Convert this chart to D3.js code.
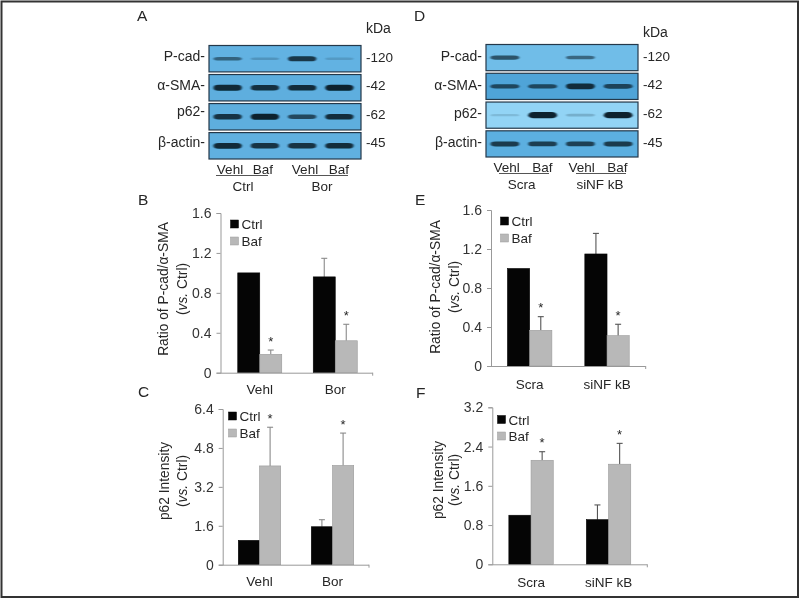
<!DOCTYPE html>
<html>
<head>
<meta charset="utf-8">
<script src="https://cdn.jsdelivr.net/npm/d3@7"></script>
<style>
html, body { margin: 0; padding: 0; background: #fff; }
svg { display: block; filter: blur(0.35px); }
text { font-family: "Liberation Sans", Arial, sans-serif; fill: #262626; }
</style>
</head>
<body>
<svg width="800" height="599"></svg>
<script>
// western blot values, one density per lane (0-1)
var blotRows = ['P-cad-', 'α-SMA-', 'p62-', 'β-actin-'];
var blotWeights = ['-120', '-42', '-62', '-45'];
var lanes = ['Vehl1', 'Baf1', 'Vehl2', 'Baf2'];
var laneLabels = ['Vehl', 'Baf', 'Vehl', 'Baf'];
var densityA = [
    [0.55, 0.2, 0.85, 0.16],
    [0.95, 0.9, 0.93, 1],
    [0.88, 1, 0.72, 0.92],
    [0.95, 0.88, 0.88, 0.92]
];
var densityD = [
    [0.68, 0, 0.55, 0],
    [0.72, 0.72, 0.92, 0.75],
    [0.14, 1, 0.2, 1],
    [0.82, 0.8, 0.78, 0.82]
];

// bar chart values
var series = ['Ctrl', 'Baf'];
var groupsLeft = ['Vehl', 'Bor'];
var groupsRight = ['Scra', 'siNF kB'];

var ctrlB = [1.0, 0.96];
var ctrlErrB = [null, 1.146];
var bafB = [0.184, 0.32];
var bafErrB = [0.227, 0.485];
var ticksB = [0, 0.4, 0.8, 1.2, 1.6];

var ctrlC = [1.0, 1.56];
var ctrlErrC = [null, 1.85];
var bafC = [4.06, 4.08];
var bafErrC = [5.65, 5.41];
var ticksC = [0, 1.6, 3.2, 4.8, 6.4];

var ctrlE = [1.0, 1.149];
var ctrlErrE = [null, 1.36];
var bafE = [0.366, 0.311];
var bafErrE = [0.506, 0.428];
var ticksE = [0, 0.4, 0.8, 1.2, 1.6];

var ctrlF = [1.0, 0.91];
var ctrlErrF = [null, 1.21];
var bafF = [2.12, 2.04];
var bafErrF = [2.295, 2.465];
var ticksF = [0, 0.8, 1.6, 2.4, 3.2];

var svg = d3.select('svg');

svg.append('rect')
    .attr('x', 1.5).attr('y', 1.5)
    .attr('width', 796.5).attr('height', 595.5)
    .attr('fill', 'none')
    .attr('stroke', '#333')
    .attr('stroke-width', 2);

var defs = svg.append('defs');
defs.append('filter')
    .attr('id', 'soft')
    .attr('x', '-20%').attr('y', '-100%')
    .attr('width', '140%').attr('height', '300%')
    .append('feGaussianBlur')
    .attr('stdDeviation', '0.8 0.6');

var thickness = d3.scalePow().exponent(2).domain([0, 1]).range([2.4, 6.2]);

function letter(s, x, y) {
    svg.append('text').attr('x', x).attr('y', y)
        .attr('font-size', 15.5).text(s);
}

function drawBlot(cfg) {
    var rowY = d3.scaleBand().domain(blotRows).range(cfg.yRange).paddingInner(0.09);
    var laneX = d3.scaleBand().domain(lanes).range(cfg.laneRange).paddingInner(0.24).paddingOuter(0.12);

    var g = svg.append('g').attr('class', 'blot');

    blotRows.forEach(function(row, i) {
        g.append('rect')
            .attr('x', cfg.x0).attr('y', rowY(row))
            .attr('width', cfg.x1 - cfg.x0).attr('height', rowY.bandwidth())
            .attr('fill', cfg.rowColors[i])
            .attr('stroke', '#24384a')
            .attr('stroke-width', 1.2);

        g.selectAll('.band' + i)
            .data(cfg.density[i])
            .enter()
            .append('rect')
            .attr('class', 'band' + i)
            .attr('x', function(d, j) { return laneX(lanes[j]); })
            .attr('y', function(d) { return rowY(row) + rowY.bandwidth() / 2 - thickness(d) / 2; })
            .attr('width', laneX.bandwidth())
            .attr('height', function(d) { return thickness(d); })
            .attr('rx', 5)
            .attr('ry', function(d) { return thickness(d) / 2; })
            .attr('fill', '#08202f')
            .attr('opacity', function(d) { return d; })
            .attr('filter', 'url(#soft)');

        svg.append('text')
            .attr('x', cfg.x0 - 4).attr('y', cfg.rowBase[i])
            .attr('text-anchor', 'end').attr('font-size', 14)
            .text(row);
        svg.append('text')
            .attr('x', cfg.x1 + 5).attr('y', cfg.weightBase[i])
            .attr('font-size', 13.5)
            .text(blotWeights[i]);
    });

    svg.append('text')
        .attr('x', cfg.x1 + 5).attr('y', cfg.kdaY)
        .attr('font-size', 14).text('kDa');

    laneLabels.forEach(function(s, i) {
        svg.append('text')
            .attr('x', cfg.laneLabelX[i]).attr('y', cfg.laneLabelY)
            .attr('text-anchor', 'middle').attr('font-size', 13.5)
            .text(s);
    });
    cfg.groups.forEach(function(s, i) {
        svg.append('line')
            .attr('x1', cfg.under[i][0]).attr('x2', cfg.under[i][1])
            .attr('y1', cfg.underY).attr('y2', cfg.underY)
            .attr('stroke', '#555').attr('stroke-width', 1);
        svg.append('text')
            .attr('x', cfg.groupX[i]).attr('y', cfg.groupY)
            .attr('text-anchor', 'middle').attr('font-size', 13.5)
            .text(s);
    });
}

function drawBars(cfg) {
    var y = d3.scaleLinear()
        .domain([0, d3.max(cfg.ticks)])
        .range([cfg.bottom, cfg.top]);
    var x = d3.scaleBand().domain(cfg.groups).range(cfg.xRange);
    var inner = d3.scaleBand().domain(series)
        .range([x.bandwidth() / 2 - cfg.barW, x.bandwidth() / 2 + cfg.barW]);

    var rows = cfg.groups.map(function(g, i) {
        return [
            { group: g, key: 'Ctrl', value: cfg.ctrl[i], err: cfg.ctrlErr[i] },
            { group: g, key: 'Baf', value: cfg.baf[i], err: cfg.bafErr[i] }
        ];
    });
    var data = d3.merge(rows);

    var chart = svg.append('g').attr('class', 'bars');

    // error bars sit behind the bars
    var withErr = data.filter(function(d) { return d.err !== null; });
    var cx = function(d) { return x(d.group) + inner(d.key) + inner.bandwidth() / 2; };

    chart.selectAll('.err')
        .data(withErr)
        .enter()
        .append('line')
        .attr('class', 'err')
        .attr('x1', cx).attr('x2', cx)
        .attr('y1', function(d) { return y(d.value); })
        .attr('y2', function(d) { return y(d.err); })
        .attr('stroke', cfg.errColor).attr('stroke-width', 1.1);
    chart.selectAll('.cap')
        .data(withErr)
        .enter()
        .append('line')
        .attr('class', 'cap')
        .attr('x1', function(d) { return cx(d) - 3; })
        .attr('x2', function(d) { return cx(d) + 3; })
        .attr('y1', function(d) { return y(d.err); })
        .attr('y2', function(d) { return y(d.err); })
        .attr('stroke', cfg.errColor).attr('stroke-width', 1.1);

    chart.selectAll('.bar')
        .data(data)
        .enter()
        .append('rect')
        .attr('class', 'bar')
        .attr('x', function(d) { return x(d.group) + inner(d.key); })
        .attr('y', function(d) { return y(d.value); })
        .attr('width', inner.bandwidth())
        .attr('height', function(d) { return y(0) - y(d.value); })
        .attr('fill', function(d) { return d.key === 'Ctrl' ? '#050505' : '#b8b8b8'; })
        .attr('stroke', function(d) { return d.key === 'Ctrl' ? '#050505' : '#9a9a9a'; })
        .attr('stroke-width', 0.6);

    chart.selectAll('.star')
        .data(data.filter(function(d) { return d.key === 'Baf'; }))
        .enter()
        .append('text')
        .attr('class', 'star')
        .attr('x', cx)
        .attr('y', function(d) { return y(d.err) - 4.5; })
        .attr('text-anchor', 'middle')
        .attr('font-size', 13)
        .text('*');

    // axes
    var yAxis = d3.axisLeft(y)
        .tickValues(cfg.ticks)
        .tickSize(4)
        .tickPadding(5)
        .tickFormat(function(d) { return d === 0 ? '0' : d3.format('.1f')(d); });
    var axisG = svg.append('g')
        .attr('transform', 'translate(' + cfg.axisX + ',0)')
        .call(yAxis);
    axisG.selectAll('text').attr('font-size', 14).style('fill', '#333');
    axisG.selectAll('line, path').attr('stroke', '#999');
    axisG.select('.domain').attr('stroke', '#999');

    var baseline = svg.append('g');
    baseline.append('line')
        .attr('x1', cfg.axisX).attr('x2', cfg.xEnd)
        .attr('y1', cfg.bottom + 0.5).attr('y2', cfg.bottom + 0.5)
        .attr('stroke', '#999');
    baseline.append('line')
        .attr('x1', cfg.xEnd).attr('x2', cfg.xEnd)
        .attr('y1', cfg.bottom).attr('y2', cfg.bottom + 3)
        .attr('stroke', '#999');

    cfg.groups.forEach(function(g) {
        svg.append('text')
            .attr('x', x(g) + x.bandwidth() / 2)
            .attr('y', cfg.labelY)
            .attr('text-anchor', 'middle')
            .attr('font-size', 13.5)
            .text(g);
    });

    // legend
    series.forEach(function(s, i) {
        svg.append('rect')
            .attr('x', cfg.legendX).attr('y', cfg.legendY[i])
            .attr('width', 8).attr('height', 8)
            .attr('fill', i === 0 ? '#050505' : '#b8b8b8')
            .attr('stroke', i === 0 ? '#050505' : '#9a9a9a')
            .attr('stroke-width', 0.5);
        svg.append('text')
            .attr('x', cfg.legendX + 11).attr('y', cfg.legendY[i] + 9)
            .attr('font-size', 13.5)
            .text(s);
    });

    // y title, two rotated lines
    svg.append('text')
        .attr('transform', 'translate(' + cfg.titleX[0] + ',' + cfg.titleY + ') rotate(-90)')
        .attr('text-anchor', 'middle')
        .attr('font-size', 13.8)
        .text(cfg.title);
    var t2 = svg.append('text')
        .attr('transform', 'translate(' + cfg.titleX[1] + ',' + cfg.titleY + ') rotate(-90)')
        .attr('text-anchor', 'middle')
        .attr('font-size', 13.8);
    t2.append('tspan').text('(');
    t2.append('tspan').attr('font-style', 'italic').text('vs.');
    t2.append('tspan').text(' Ctrl)');
}

letter('A', 137, 21);
letter('D', 414, 21);
letter('B', 138, 205);
letter('C', 138, 397);
letter('E', 415, 205);
letter('F', 416, 398);

drawBlot({
    x0: 209, x1: 361, yRange: [45.5, 159], laneRange: [209, 358],
    density: densityA,
    rowColors: ['#62b2e2', '#5eaede', '#5eaede', '#60b0e0'],
    rowBase: [60.5, 90, 115.5, 146.5], weightBase: [61.5, 90, 119, 147],
    kdaY: 33,
    laneLabelX: [230, 263, 305, 339], laneLabelY: 174,
    groups: ['Ctrl', 'Bor'], under: [[216, 268], [298, 348]], underY: 175.5,
    groupX: [243, 322], groupY: 191
});
drawBlot({
    x0: 486, x1: 638, yRange: [44.5, 157], laneRange: [486, 637],
    density: densityD,
    rowColors: ['#70bde8', '#4fa4d8', '#92d4f5', '#5cafe0'],
    rowBase: [61, 90, 118, 146.5], weightBase: [61, 89, 117.5, 146.5],
    kdaY: 36.5,
    laneLabelX: [506.7, 542.3, 581.7, 617.3], laneLabelY: 171.5,
    groups: ['Scra', 'siNF kB'], under: [[499, 549], [576, 626]], underY: 173.5,
    groupX: [521.7, 600], groupY: 189
});

drawBars({
    top: 213, bottom: 372.7, axisX: 220.5, xEnd: 372.7, xRange: [222, 373], barW: 22,
    groups: groupsLeft, ctrl: ctrlB, ctrlErr: ctrlErrB, baf: bafB, bafErr: bafErrB, ticks: ticksB,
    labelY: 394, legendX: 230.5, legendY: [220, 237], errColor: '#8a8a8a',
    title: 'Ratio of P-cad/α-SMA', titleX: [168, 187], titleY: 289
});
drawBars({
    top: 409, bottom: 564.7, axisX: 222.7, xEnd: 369, xRange: [223, 369], barW: 21.2,
    groups: groupsLeft, ctrl: ctrlC, ctrlErr: ctrlErrC, baf: bafC, bafErr: bafErrC, ticks: ticksC,
    labelY: 586, legendX: 228.5, legendY: [412, 429], errColor: '#8a8a8a',
    title: 'p62 Intensity', titleX: [169, 187], titleY: 481
});
drawBars({
    top: 210, bottom: 366, axisX: 491, xEnd: 645.7, xRange: [491, 645.7], barW: 22.2,
    groups: groupsRight, ctrl: ctrlE, ctrlErr: ctrlErrE, baf: bafE, bafErr: bafErrE, ticks: ticksE,
    labelY: 389, legendX: 500.5, legendY: [217, 234], errColor: '#555',
    title: 'Ratio of P-cad/α-SMA', titleX: [440, 459], titleY: 287
});
drawBars({
    top: 407.3, bottom: 564.3, axisX: 492.3, xEnd: 647.3, xRange: [492.3, 647.3], barW: 22.2,
    groups: groupsRight, ctrl: ctrlF, ctrlErr: ctrlErrF, baf: bafF, bafErr: bafErrF, ticks: ticksF,
    labelY: 587, legendX: 497.5, legendY: [415.5, 432], errColor: '#555',
    title: 'p62 Intensity', titleX: [443, 459], titleY: 480
});
</script>
</body>
</html>
